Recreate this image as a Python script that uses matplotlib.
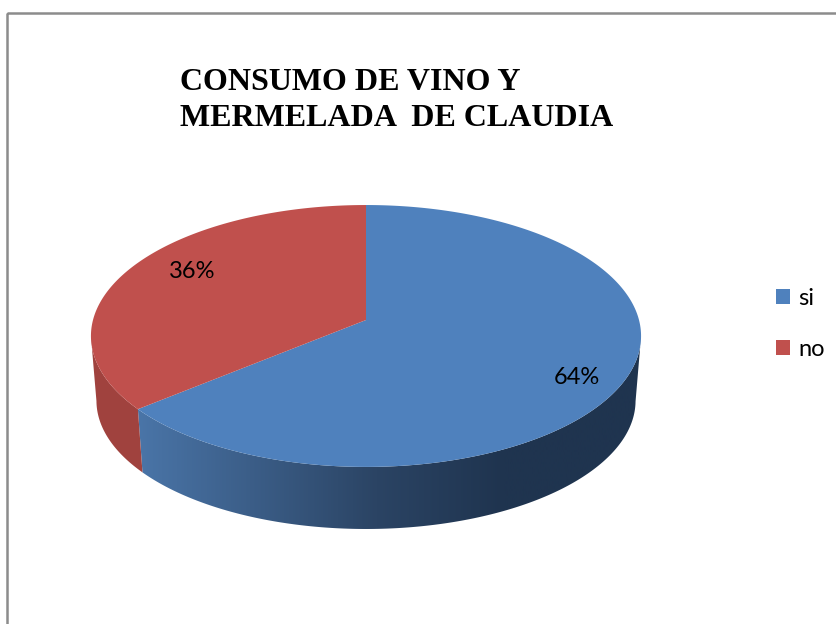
import numpy as np
import matplotlib
matplotlib.use('Agg')
import matplotlib.pyplot as plt
from matplotlib.patches import Patch, Rectangle, Polygon
from matplotlib.colors import LinearSegmentedColormap

# data
categories = ['si', 'no']
values = [64, 36]
pct_labels = ['64%', '36%']
title_lines = ['CONSUMO DE VINO Y', 'MERMELADA  DE CLAUDIA']
colors = ['#4f81bd', '#c0504d']

# pixel canvas, y goes down
fig = plt.figure(figsize=(8.37, 6.24), dpi=100)
ax = fig.add_axes([0, 0, 1, 1])
ax.set_xlim(0, 837)
ax.set_ylim(624, 0)
ax.axis('off')

# outer frame of the pasted chart, cut by the page
ax.add_patch(Rectangle((7.5, 12.5), 900, 700, fill=False, ec='#8c8c8c', lw=1.8))

# perspective projection of the pie disc
k = 0.122
a, b = 273.0, 129.0
cx = 366.0


def project(theta, cy, s=1.0):
    # theta clockwise from the top
    u = np.sin(theta)
    v = -np.cos(theta)
    d = 1 - k * v
    return cx + s * a * u / d, cy + s * b * v / d


top_y = 320.0
bot_y = 385.0
bot_s = 0.98

fractions = np.array(values) / sum(values)
edges = np.concatenate([[0], np.cumsum(fractions)]) * 2 * np.pi

# side wall, horizontal gradient clipped to the wall outline
blue_side = LinearSegmentedColormap.from_list('b', [(0, '#4a75a8'), (0.084, '#4a75a8'), (0.52, '#2b4464'),
                                                    (0.75, '#1f344f'), (1, '#1f344f')])
red_side = LinearSegmentedColormap.from_list('r', ['#a0423e', '#a9443f'])
side_maps = [blue_side, red_side]
for i in range(len(values)):
    th = np.linspace(edges[i], edges[i + 1], 600)
    # the wall starts where the disc is widest, the rest hides behind the top
    th = th[np.cos(th) < -0.122]
    x1, y1 = project(th, top_y)
    x2, y2 = project(th, bot_y, bot_s)
    pts = np.column_stack([np.r_[x1, x2[::-1]], np.r_[y1, y2[::-1]]])
    wall = Polygon(pts, closed=True, fc='none', ec='none')
    ax.add_patch(wall)
    grad = np.linspace(0, 1, 512).reshape(1, -1)
    im = ax.imshow(grad, cmap=side_maps[i], extent=(91, 641, 624, 0), aspect='auto', zorder=2,
                   interpolation='bilinear')
    im.set_clip_path(wall)
ax.set_xlim(0, 837)
ax.set_ylim(624, 0)

# top face
for i in range(len(values)):
    th = np.linspace(edges[i], edges[i + 1], 300)
    x1, y1 = project(th, top_y)
    pts = np.column_stack([np.r_[cx, x1], np.r_[top_y, y1]])
    ax.add_patch(Polygon(pts, closed=True, fc=colors[i], ec='none', zorder=3))

# percentage labels
label_pos = [(577, 377), (192, 272)]
for txt, (lx, ly) in zip(pct_labels, label_pos):
    ax.text(lx, ly, txt, ha='center', va='center', fontsize=17, family='Lato', color='black', zorder=4)

# title
for line, ty in zip(title_lines, [83, 119]):
    ax.text(180, ty, line, ha='left', va='center', fontsize=23, fontweight='bold',
            family='Liberation Serif', color='black')

# legend
handles = [Patch(facecolor=c, edgecolor='none') for c in colors]
ax.legend(handles, categories, loc='center left', bbox_to_anchor=(776 / 837, 1 - 324 / 624),
          frameon=False, prop={'family': 'Lato', 'size': 17}, handlelength=0.6, handleheight=0.6,
          handletextpad=0.35, labelspacing=1.25, borderpad=0, borderaxespad=0)

fig.savefig('out.png', dpi=100)
